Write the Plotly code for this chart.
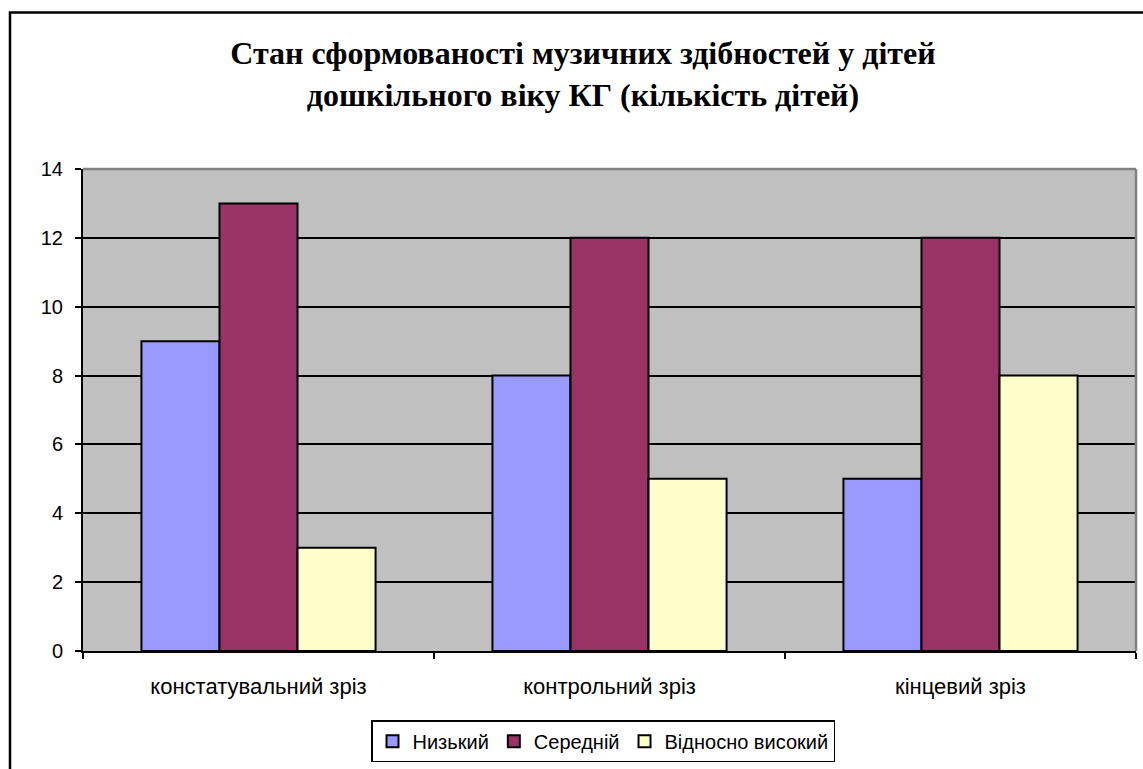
import plotly.graph_objects as go

categories = ["констатувальний зріз", "контрольний зріз", "кінцевий зріз"]
low = [9, 8, 5]
medium = [13, 12, 12]
high = [3, 5, 8]
series_names = ["Низький", "Середній", "Відносно високий"]
y_ticks = [0, 2, 4, 6, 8, 10, 12, 14]

colors = ["#9999FF", "#993366", "#FFFFCC"]

W, H = 1143, 769
ml, mr, mt, mb = 83, 7, 169, 113
pw, ph = W - ml - mr, H - mt - mb

fig = go.Figure()
for name, vals, col in zip(series_names, [low, medium, high], colors):
    fig.add_trace(go.Bar(
        x=categories, y=vals, name=name,
        marker=dict(color=col, line=dict(color="black", width=2)),
    ))

def px_x(x):
    return (x - ml) / pw

def px_y(y):
    return (H - mb - y) / ph

fig.update_layout(
    width=W, height=H,
    margin=dict(l=ml, r=mr, t=mt, b=mb),
    paper_bgcolor="white",
    plot_bgcolor="#C0C0C0",
    barmode="group",
    bargap=0.333,
    bargroupgap=0,
    font=dict(family="Liberation Sans, Arial", size=19, color="black"),
    title=dict(
        text="Стан сформованості музичних здібностей у дітей<br>дошкільного віку КГ (кількість дітей)",
        font=dict(family="Liberation Serif, Times New Roman", size=32, color="black", weight="bold"),
        x=583 / W, xanchor="center", xref="container",
        y=1 - 64 / H, yanchor="middle",
    ),
    showlegend=True,
    legend=dict(
        orientation="h",
        x=px_x(603), xanchor="center",
        y=px_y(726), yanchor="top",
        bordercolor="black", borderwidth=1.5,
        bgcolor="white",
        font=dict(size=20),
        itemsizing="constant",
        itemwidth=30,
        traceorder="normal",
        tracegroupgap=0,
    ),
    xaxis=dict(
        type="category",
        showline=True, linecolor="black", linewidth=2,
        ticks="outside", tickson="boundaries", ticklen=6, tickcolor="black", tickwidth=1.5,
        showgrid=False, mirror=False,
        tickfont=dict(size=22),
        ticklabelstandoff=15,
    ),
    yaxis=dict(
        range=[0, 14],
        tickvals=y_ticks,
        showline=True, linecolor="black", linewidth=2,
        ticks="outside", ticklen=6, tickcolor="black", tickwidth=1.5,
        showgrid=True, gridcolor="black", gridwidth=1.5,
        zeroline=False,
        tickfont=dict(size=20),
        ticklabelstandoff=8,
    ),
    shapes=[
        # plot area frame, top and right edges
        dict(type="line", xref="paper", yref="paper", x0=0, x1=1, y0=1, y1=1,
             line=dict(color="#808080", width=2.5)),
        dict(type="line", xref="paper", yref="paper", x0=1, x1=1, y0=0, y1=1,
             line=dict(color="#808080", width=2.5)),
        # outer chart border
        dict(type="rect", xref="paper", yref="paper",
             x0=px_x(10), x1=px_x(1160), y0=px_y(790), y1=px_y(11),
             line=dict(color="black", width=2.5), fillcolor="rgba(0,0,0,0)", layer="below"),
    ],
)

fig.write_html("out.html")
